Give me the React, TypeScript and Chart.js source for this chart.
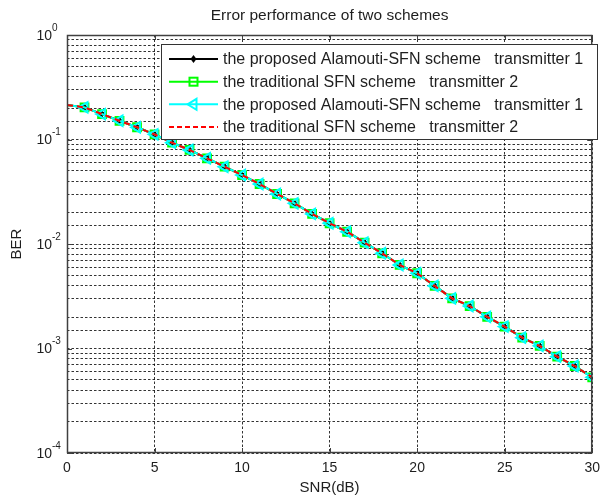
import React, { useEffect, useRef } from 'react';
import { Chart, registerables } from 'chart.js';

Chart.register(...registerables);

// ---- data ----
const snrDb = [0, 1, 2, 3, 4, 5, 6, 7, 8, 9, 10, 11, 12, 13, 14, 15, 16, 17, 18, 19, 20, 21, 22, 23, 24, 25, 26, 27, 28, 29, 30];
const berAlamouti = [0.214, 0.203, 0.175, 0.151, 0.131, 0.112, 0.0932, 0.0794, 0.0661, 0.0549, 0.0457, 0.0375, 0.0301, 0.0245, 0.0194, 0.0158, 0.0131, 0.0103, 0.00815, 0.0063, 0.00525, 0.00397, 0.00302, 0.00255, 0.00201, 0.00162, 0.00127, 0.00106, 0.000835, 0.00068, 0.00053];
const berTraditional = [0.214, 0.203, 0.175, 0.151, 0.131, 0.112, 0.0932, 0.0794, 0.0661, 0.0549, 0.0457, 0.0375, 0.0301, 0.0245, 0.0194, 0.0158, 0.0131, 0.0103, 0.00815, 0.0063, 0.00525, 0.00397, 0.00302, 0.00255, 0.00201, 0.00162, 0.00127, 0.00106, 0.000835, 0.00068, 0.00053];
const xTickValues = [0, 5, 10, 15, 20, 25, 30];
const yDecades = [1, 0.1, 0.01, 0.001, 0.0001];
const yExponents = ['0', '-1', '-2', '-3', '-4'];
const seriesLabels = [
  'the proposed Alamouti-SFN scheme   transmitter 1',
  'the traditional SFN scheme   transmitter 2',
  'the proposed Alamouti-SFN scheme   transmitter 1',
  'the traditional SFN scheme   transmitter 2',
];
const titleText = 'Error performance of two schemes';
const xTitle = 'SNR(dB)';
const yTitle = 'BER';

const FONT = '"Liberation Sans", Arial, sans-serif';
const TEXT = '#1e1e1e';
const GRID = 'rgba(0,0,0,0.8)';

const toPts = (ys: number[]) => snrDb.map((x, i) => ({ x, y: ys[i] }));
const hideFirst = (r: number) => (ctx: any) => (ctx.dataIndex === 0 ? 0 : r);

function drawMarker(ctx: CanvasRenderingContext2D, kind: number, x: number, y: number) {
  ctx.save();
  ctx.setLineDash([]);
  if (kind === 0) {
    ctx.fillStyle = '#000';
    ctx.beginPath();
    ctx.moveTo(x, y - 4);
    ctx.lineTo(x + 3, y);
    ctx.lineTo(x, y + 4);
    ctx.lineTo(x - 3, y);
    ctx.closePath();
    ctx.fill();
  } else if (kind === 1) {
    ctx.strokeStyle = '#00ff00';
    ctx.lineWidth = 2;
    ctx.strokeRect(x - 4, y - 4, 8, 8);
  } else if (kind === 2) {
    ctx.strokeStyle = '#00ffff';
    ctx.lineWidth = 2;
    ctx.beginPath();
    ctx.moveTo(x - 6, y);
    ctx.lineTo(x + 3, y - 5.5);
    ctx.lineTo(x + 3, y + 5.5);
    ctx.closePath();
    ctx.stroke();
  }
  ctx.restore();
}

const overlay = {
  id: 'overlay',
  afterDraw(chart: any) {
    const { ctx, chartArea: a, scales } = chart;
    const xs = scales.x;
    const ys = scales.y;
    ctx.save();
    // frame
    ctx.setLineDash([]);
    ctx.strokeStyle = '#404040';
    ctx.lineWidth = 1.5;
    ctx.strokeRect(a.left + 0.5, a.top + 0.5, a.right - a.left - 1, a.bottom - a.top - 1);
    // tick marks
    ctx.lineWidth = 1;
    ctx.beginPath();
    xTickValues.forEach((v) => {
      const px = Math.round(xs.getPixelForValue(v)) + 0.5;
      ctx.moveTo(px, a.bottom);
      ctx.lineTo(px, a.bottom - 5);
      ctx.moveTo(px, a.top);
      ctx.lineTo(px, a.top + 5);
    });
    yDecades.forEach((v) => {
      const py = Math.round(ys.getPixelForValue(v)) + 0.5;
      ctx.moveTo(a.left, py);
      ctx.lineTo(a.left + 5, py);
      ctx.moveTo(a.right, py);
      ctx.lineTo(a.right - 5, py);
    });
    ctx.stroke();

    // y tick labels (10^k)
    ctx.fillStyle = TEXT;
    yDecades.forEach((v, i) => {
      const py = ys.getPixelForValue(v);
      ctx.font = `14px ${FONT}`;
      ctx.textAlign = 'right';
      ctx.textBaseline = 'middle';
      ctx.fillText('10', 52, py + 1);
      ctx.font = `10px ${FONT}`;
      ctx.textAlign = 'left';
      ctx.fillText(yExponents[i], 52, py - 7);
    });

    // title
    ctx.font = `15.5px ${FONT}`;
    ctx.textAlign = 'center';
    ctx.textBaseline = 'middle';
    ctx.fillText(titleText, (a.left + a.right) / 2, 16);
    // x title
    ctx.font = `15px ${FONT}`;
    ctx.fillText(xTitle, (a.left + a.right) / 2, 488);
    // y title
    ctx.save();
    ctx.translate(17, (a.top + a.bottom) / 2);
    ctx.rotate(-Math.PI / 2);
    ctx.fillText(yTitle, 0, 0);
    ctx.restore();

    // legend
    const lx = 161.5, ly = 44.5, lw = 436, lh = 95;
    ctx.fillStyle = '#fff';
    ctx.fillRect(lx, ly, lw, lh);
    ctx.strokeStyle = '#333';
    ctx.lineWidth = 1;
    ctx.strokeRect(lx, ly, lw, lh);
    const rowY = [59, 81.7, 104.3, 126.9];
    const colors = ['#000000', '#00ff00', '#00ffff', '#ff0000'];
    seriesLabels.forEach((label, i) => {
      const y = rowY[i];
      ctx.save();
      ctx.strokeStyle = colors[i];
      ctx.lineWidth = 2;
      ctx.setLineDash(i === 3 ? [5, 3] : []);
      ctx.beginPath();
      ctx.moveTo(169, y);
      ctx.lineTo(218, y);
      ctx.stroke();
      ctx.restore();
      drawMarker(ctx, i, 193.5, y);
      ctx.fillStyle = TEXT;
      ctx.font = `16px ${FONT}`;
      ctx.textAlign = 'left';
      ctx.textBaseline = 'middle';
      ctx.fillText(label, 223, y + 1);
    });
    ctx.restore();
  },
};

export default function App() {
  const ref = useRef<HTMLCanvasElement>(null);
  useEffect(() => {
    const canvas = ref.current;
    if (!canvas) return;
    const chart = new Chart(canvas, {
      type: 'line',
      data: {
        datasets: [
          {
            label: seriesLabels[0],
            data: toPts(berAlamouti),
            borderColor: '#000000',
            backgroundColor: '#000000',
            borderWidth: 2,
            pointStyle: 'rectRot',
            pointRadius: hideFirst(3),
            pointBorderWidth: 1,
            order: 4,
          },
          {
            label: seriesLabels[1],
            data: toPts(berTraditional),
            borderColor: '#00ff00',
            backgroundColor: 'rgba(0,0,0,0)',
            borderWidth: 2,
            pointStyle: 'rect',
            pointRadius: hideFirst(5.5),
            pointBorderWidth: 2,
            order: 3,
          },
          {
            label: seriesLabels[2],
            data: toPts(berAlamouti),
            borderColor: '#00ffff',
            backgroundColor: 'rgba(0,0,0,0)',
            borderWidth: 2,
            pointStyle: 'triangle',
            pointRotation: -90,
            pointRadius: hideFirst(6),
            pointBorderWidth: 2,
            order: 2,
          },
          {
            label: seriesLabels[3],
            data: toPts(berTraditional),
            borderColor: '#ff0000',
            backgroundColor: '#ff0000',
            borderWidth: 2,
            borderDash: [6, 4],
            pointRadius: 0,
            order: 1,
          },
        ],
      },
      options: {
        responsive: false,
        maintainAspectRatio: false,
        animation: false,
        devicePixelRatio: 1,
        layout: { padding: { left: 0, top: 35, right: 8, bottom: 0 } },
        plugins: { legend: { display: false }, title: { display: false }, tooltip: { enabled: false } },
        scales: {
          x: {
            type: 'linear',
            min: 0,
            max: 30,
            afterFit: (s: any) => { s.height = 44; },
            afterBuildTicks: (s: any) => { s.ticks = xTickValues.map((v) => ({ value: v })); },
            grid: { color: GRID, lineWidth: 1, drawTicks: false, tickLength: 0 },
            border: { display: false, dash: [2.5, 2] },
            ticks: { color: TEXT, font: { family: FONT, size: 14 }, padding: 7, maxRotation: 0, autoSkip: false },
          },
          y: {
            type: 'logarithmic',
            min: 0.0001,
            max: 1,
            afterFit: (s: any) => { s.width = 67; },
            grid: { color: GRID, lineWidth: 1, drawTicks: false, tickLength: 0 },
            border: { display: false, dash: [2.5, 2] },
            ticks: { display: false, autoSkip: false },
          },
        },
      },
      plugins: [overlay],
    } as any);
    return () => chart.destroy();
  }, []);
  return (
    <div style={{ position: 'absolute', left: 0, top: 0, width: 607, height: 497, background: '#fff' }}>
      <canvas ref={ref} width={607} height={497} style={{ display: 'block', width: 607, height: 497 }} />
    </div>
  );
}
